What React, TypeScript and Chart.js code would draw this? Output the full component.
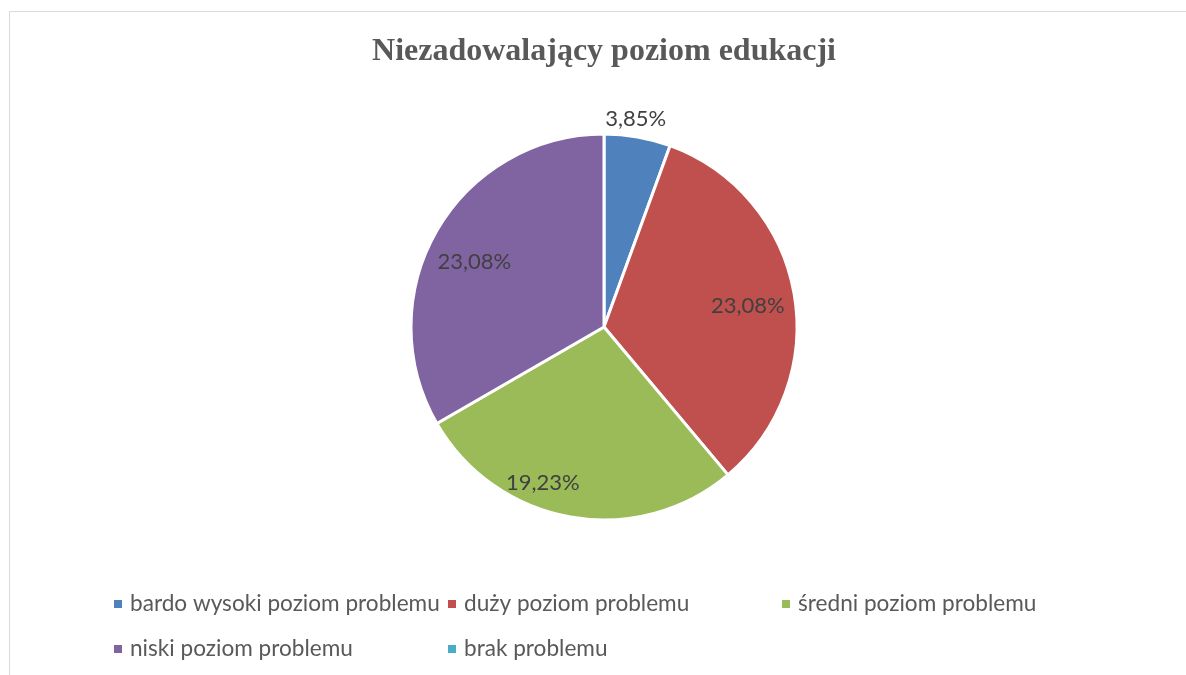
import React, { useEffect, useRef } from "react";
import { Chart, registerables } from "chart.js";

Chart.register(...registerables);

const TITLE = "Niezadowalający poziom edukacji";
const categories = [
  "bardo wysoki poziom problemu",
  "duży poziom problemu",
  "średni poziom problemu",
  "niski poziom problemu",
  "brak problemu",
];
const values = [3.85, 23.08, 19.23, 23.08, 0];
const colors = ["#4F81BD", "#C0504D", "#9BBB59", "#8064A2", "#4BACC6"];

// label placement relative to each slice (angle shift in degrees, radius factor)
const labelPlacement = [
  { dAngle: -1.4, rFactor: 1.098 },
  { dAngle: 1.1, rFactor: 0.754 },
  { dAngle: 11.6, rFactor: 0.862 },
  { dAngle: -2.9, rFactor: 0.755 },
  { dAngle: 0, rFactor: 0.75 },
];

const LABEL_FONT = "Lato";

const fmt = (v: number) => v.toFixed(2).replace(".", ",") + "%";

const framePlugin = {
  id: "frame",
  beforeDraw(chart: any) {
    const ctx = chart.ctx;
    ctx.save();
    ctx.fillStyle = "#ffffff";
    ctx.fillRect(0, 0, chart.width, chart.height);
    ctx.strokeStyle = "#d9d9d9";
    ctx.lineWidth = 1;
    ctx.beginPath();
    ctx.moveTo(9.5, chart.height + 2);
    ctx.lineTo(9.5, 11.5);
    ctx.lineTo(chart.width + 2, 11.5);
    ctx.stroke();
    ctx.restore();
  },
};

const dataLabelPlugin = {
  id: "sliceLabels",
  afterDatasetsDraw(chart: any) {
    const ctx = chart.ctx;
    const meta = chart.getDatasetMeta(0);
    const data = chart.data.datasets[0].data as number[];
    ctx.save();
    ctx.font = `22px ${LABEL_FONT}`;
    ctx.fillStyle = "#404040";
    ctx.textAlign = "center";
    ctx.textBaseline = "middle";
    meta.data.forEach((arc: any, i: number) => {
      const v = data[i];
      if (!v) return;
      const p = labelPlacement[i];
      const mid = (arc.startAngle + arc.endAngle) / 2 + (p.dAngle * Math.PI) / 180;
      const r = arc.outerRadius * p.rFactor;
      const x = arc.x + r * Math.cos(mid);
      const y = arc.y + r * Math.sin(mid) + 1;
      ctx.fillText(fmt(v), x, y);
    });
    ctx.restore();
  },
};

const legendPlugin = {
  id: "gridLegend",
  afterDraw(chart: any) {
    const ctx = chart.ctx;
    const labels = chart.data.labels as string[];
    const bg = chart.data.datasets[0].backgroundColor as string[];
    const colX = [114, 448, 782];
    const rowY = [604, 649];
    ctx.save();
    ctx.font = `22.6px ${LABEL_FONT}`;
    ctx.textAlign = "left";
    ctx.textBaseline = "alphabetic";
    labels.forEach((lab, i) => {
      const c = i % 3;
      const r = Math.floor(i / 3);
      const x = colX[c];
      const y = rowY[r];
      ctx.fillStyle = bg[i];
      ctx.fillRect(x, y - 4, 8, 8);
      ctx.fillStyle = "#595959";
      ctx.fillText(lab, x + 16, y + 7);
    });
    ctx.restore();
  },
};

export default function App() {
  const ref = useRef<HTMLCanvasElement | null>(null);
  useEffect(() => {
    document.body.style.margin = "0";
    if (!ref.current) return;
    const chart = new Chart(ref.current, {
      type: "pie",
      data: {
        labels: categories,
        datasets: [
          {
            data: values,
            backgroundColor: colors,
            borderColor: "#ffffff",
            borderWidth: 3,
            radius: 193,
          } as any,
        ],
      },
      options: {
        animation: false,
        responsive: false,
        layout: { padding: { top: 0, bottom: 110.4, left: 222, right: 200 } },
        plugins: {
          legend: { display: false },
          tooltip: { enabled: false },
          title: {
            display: true,
            text: TITLE,
            color: "#595959",
            font: { family: "'Liberation Serif'", size: 32, weight: "bold" },
            padding: { top: 33, bottom: 18 },
          },
        },
      },
      plugins: [framePlugin, dataLabelPlugin, legendPlugin],
    });
    return () => chart.destroy();
  }, []);
  return (
    <div style={{ width: 1186, height: 675 }}>
      <canvas ref={ref} width={1186} height={675} />
    </div>
  );
}
